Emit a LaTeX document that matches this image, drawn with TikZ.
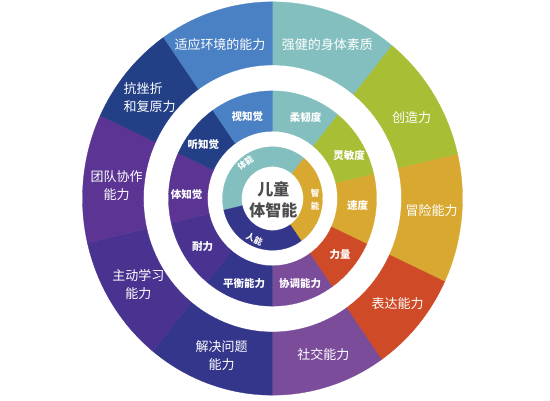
\documentclass[tikz,border=0pt]{standalone}
\usepackage{fontspec}
\setmainfont{Noto Sans CJK SC}
\usepackage{xcolor}
\definecolor{RingTeal}{RGB}{130,191,190}
\definecolor{RingGreen}{RGB}{168,190,53}
\definecolor{RingYellow}{RGB}{217,168,49}
\definecolor{RingRed}{RGB}{207,74,38}
\definecolor{RingPurple}{RGB}{123,76,154}
\definecolor{RingNavy}{RGB}{51,54,138}
\definecolor{RingIndigo}{RGB}{74,51,144}
\definecolor{RingViolet}{RGB}{91,52,148}
\definecolor{RingDeepBlue}{RGB}{35,63,133}
\definecolor{RingBlue}{RGB}{74,128,196}
\definecolor{HubGray}{RGB}{77,77,77}
\usepackage{tikz}
\usetikzlibrary{calc}
\tikzset{
  % Ring labels
  outlabel/.style={
    text=white, align=center, inner sep=0pt,
    font=\fontsize{13}{18}\selectfont
  },
  midlabel/.style={
    text=white, align=center, inner sep=0pt,
    font=\fontsize{10.5}{12}\selectfont\bfseries
  },
  inlabel/.style={
    text=white, align=center, inner sep=0pt,
    font=\fontsize{8.5}{13}\selectfont\bfseries
  },
  % Centre text
  hublabel/.style={
    text=HubGray, align=center, inner sep=0pt,
    font=\fontsize{16}{20.5}\selectfont\bfseries
  },
}
% ring sector: start angle, end angle, inner radius, outer radius, colour
\newcommand{\ringseg}[5]{%
  \filldraw[fill=#5, draw=#5, line width=0.3pt]
    (#1:#4) arc[start angle=#1, end angle=#2, radius=#4]
    -- (#2:#3) arc[start angle=#2, end angle=#1, radius=#3] -- cycle;}

\begin{document}
\begin{tikzpicture}[x=1pt, y=1pt]

  \useasboundingbox (0,0) rectangle (550,400);

  \begin{scope}[shift={(272.5,201.5)}, yscale=1.035]
    %% Outer ring
    \foreach \a/\b/\c in {51/90/RingTeal, 13/51/RingGreen, -25/13/RingYellow,
        -55/-25/RingRed, -90/-55/RingPurple, -129/-90/RingNavy,
        -167/-129/RingIndigo, 155/193/RingViolet, 125/155/RingDeepBlue,
        90/125/RingBlue}
      \ringseg{\a}{\b}{129}{190}{\c};
    %% Middle ring
    \foreach \a/\b/\c in {51/90/RingTeal, 13/51/RingGreen, -25/13/RingYellow,
        -55/-25/RingRed, -90/-55/RingPurple, -129/-90/RingNavy,
        -167/-129/RingIndigo, 155/193/RingViolet, 125/155/RingDeepBlue,
        90/125/RingBlue}
      \ringseg{\a}{\b}{65}{104}{\c};
    %% Inner ring
    \ringseg{51}{193}{31}{50}{RingTeal}
    \ringseg{-55}{51}{31}{50}{RingYellow}
    \ringseg{193}{305}{31}{50}{RingNavy}
  \end{scope}

  %% Outer labels
  \node[outlabel] (adapt)   at (220,355)     {适应环境的能力};
  \node[outlabel] (strong)  at (327.3,355)   {强健的身体素质};
  \node[outlabel, align=left] (resil) at (149.7,302.8) {抗挫折\\和复原力};
  \node[outlabel] (create)  at (411.7,282.7) {创造力};
  \node[outlabel] (team)    at (116.7,214)   {团队协作\\能力};
  \node[outlabel] (risk)    at (431.7,189.3) {冒险能力};
  \node[outlabel] (learn)   at (138.3,115)   {主动学习\\能力};
  \node[outlabel] (express) at (397.7,96)    {表达能力};
  \node[outlabel] (solve)   at (221.7,44)    {解决问题\\能力};
  \node[outlabel] (social)  at (323.3,45)    {社交能力};

  %% Middle labels
  \node[midlabel] (vision)  at (247.3,283.3) {视知觉};
  \node[midlabel] (flex)    at (305.7,282.7) {柔韧度};
  \node[midlabel] (hear)    at (203.3,255)   {听知觉};
  \node[midlabel] (agile)   at (349,244)     {灵敏度};
  \node[midlabel] (body)    at (186.7,205.7) {体知觉};
  \node[midlabel] (speed)   at (357.7,195)   {速度};
  \node[midlabel] (endur)   at (202.7,153.3) {耐力};
  \node[midlabel] (power)   at (340,145)     {力量};
  \node[midlabel] (balance) at (244,116.7)   {平衡能力};
  \node[midlabel] (coord)   at (300,116.7)   {协调能力};

  %% Inner labels
  \node[inlabel, rotate=35]  (phys)  at (245.5,237.5) {体能};
  \node[inlabel]             (intel) at (315,200.7)   {智\\能};
  \node[inlabel, rotate=-24] (human) at (254.5,160.7) {人能};

  \node[hublabel] (hub) at (273.3,200.3) {儿童\\体智能};

\end{tikzpicture}
\end{document}
